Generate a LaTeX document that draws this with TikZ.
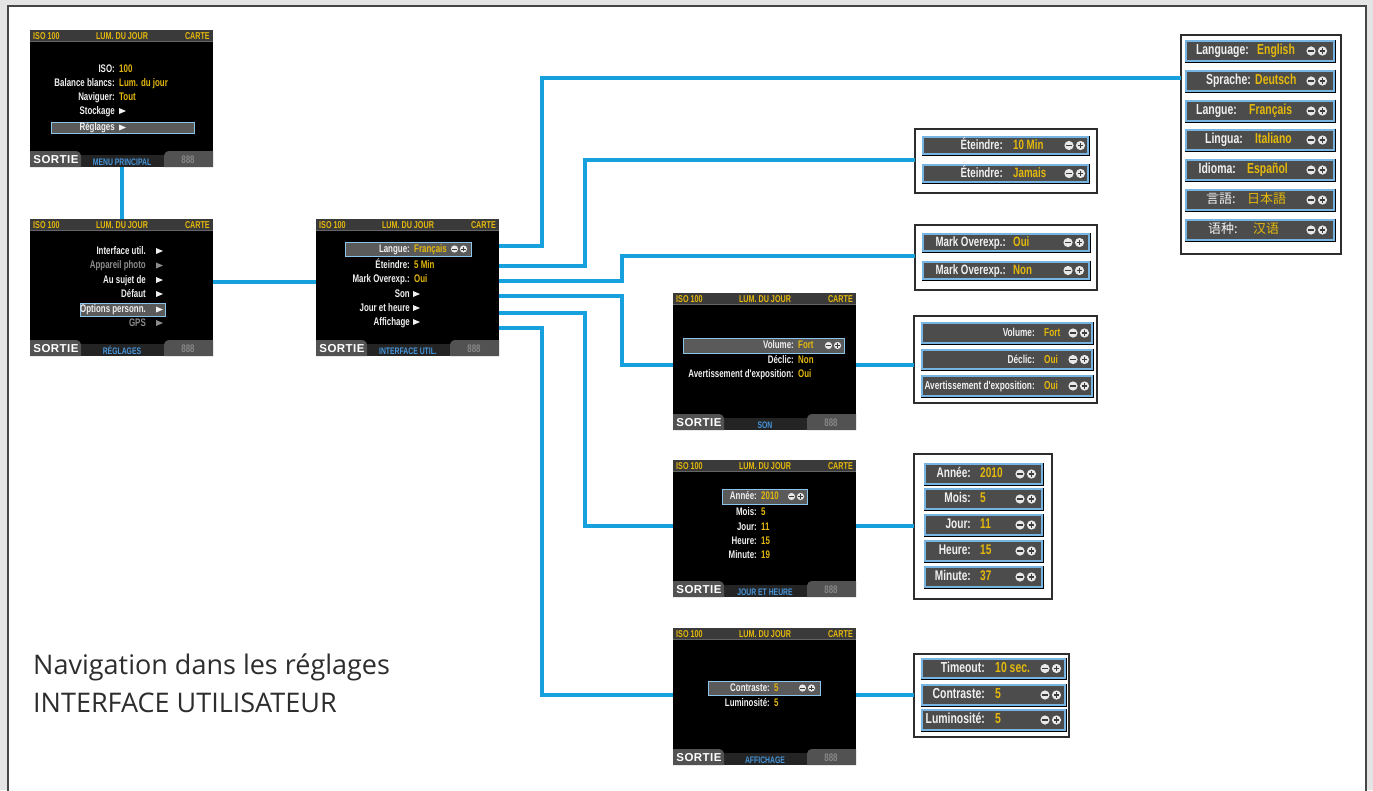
\documentclass[tikz,border=0pt]{standalone}
\usepackage{fontspec}
\setmainfont{Open Sans}
\newfontfamily\cf[FakeStretch=0.72]{Liberation Sans}
\newfontfamily\sortf[LetterSpace=4]{Liberation Sans}
\newfontfamily\jpf{Noto Sans CJK JP}
\newfontfamily\scf{Noto Sans CJK SC}
\newcounter{nd}
\definecolor{connc}{RGB}{22,160,222}
\definecolor{ylw}{RGB}{228,184,12}
\definecolor{topbar}{RGB}{58,58,58}
\definecolor{topln}{RGB}{100,100,100}
\definecolor{tabc}{RGB}{82,82,82}
\definecolor{midbar}{RGB}{36,36,36}
\definecolor{hlfill}{RGB}{90,90,90}
\definecolor{hlborder}{RGB}{140,196,236}
\definecolor{rowfill}{RGB}{76,76,76}
\definecolor{rowedge}{RGB}{120,180,225}
\definecolor{btit}{RGB}{70,150,220}
\definecolor{lbl}{RGB}{240,240,240}
\definecolor{dimc}{RGB}{140,140,140}
\definecolor{eightc}{RGB}{135,135,135}
\definecolor{boxedge}{RGB}{45,45,45}
\definecolor{framec}{RGB}{70,70,70}
\definecolor{bggray}{RGB}{228,228,228}
\definecolor{capc}{RGB}{45,45,45}
\definecolor{icnc}{RGB}{232,232,232}
\definecolor{icsymc}{RGB}{60,60,60}
\tikzset{
 scrframe/.style={fill=black, draw=none, anchor=north west, minimum width=183pt, minimum height=137pt, inner sep=0pt, outer sep=0pt},
 toptxt/.style={font={\cf\bfseries\fontsize{10}{10}\selectfont}, text=ylw, inner sep=0pt},
 stxt/.style={font={\cf\bfseries\fontsize{11}{11}\selectfont}, text=lbl, inner sep=0pt},
 sval/.style={stxt, text=ylw},
 sortie/.style={font={\sortf\bfseries\fontsize{11.5}{11.5}\selectfont}, text=white, inner sep=0pt},
 btitle/.style={font={\cf\bfseries\fontsize{9.5}{9.5}\selectfont}, text=btit, inner sep=0pt},
 eights/.style={font={\cf\bfseries\fontsize{11}{11}\selectfont}, text=eightc, inner sep=0pt},
 hlbox/.style={fill=hlfill, draw=hlborder, line width=1pt},
 listbox/.style={fill=white, draw=boxedge, line width=2.5pt, anchor=north west, inner sep=0pt, outer sep=0pt},
 rowbox/.style={fill=rowfill, draw=rowedge, line width=1.2pt, preaction={draw=black, line width=3pt}},
 rlab/.style={font={\cf\bfseries\fontsize{\rfs}{\rfs}\selectfont}, text=lbl, inner sep=0pt},
 rval/.style={rlab, text=ylw},
 icn/.style={fill=icnc},
 icsym/.style={draw=icsymc, line width=1.3pt},
 conn/.style={draw=connc, line width=4pt},
 captxt/.style={font={\fontsize{27}{32}\selectfont}, text=capc, inner sep=0pt},
}
% screen base, drawn inside a shifted scope
\newcommand\scrbase[2]{%
  \node[scrframe] (#1) at (0,0) {};
  \fill[topbar] (0,0) rectangle (183,11);
  \draw[topln, line width=0.8pt] (0,11) -- (183,11);
  \stepcounter{nd}\node[toptxt,anchor=mid west] (t\thend) at (3,6.5) {ISO 100};
  \stepcounter{nd}\node[toptxt,anchor=mid] (t\thend) at (92,6.5) {LUM. DU JOUR};
  \stepcounter{nd}\node[toptxt,anchor=mid east] (t\thend) at (180,6.5) {CARTE};
  \fill[midbar] (0,125) rectangle (183,137);
  \fill[tabc] (0,137) -- (0,121) -- (45,121) .. controls (49,121) and (51,123) .. (51,127) -- (51,137) -- cycle;
  \fill[tabc] (183,137) -- (183,121) -- (140,121) .. controls (136,121) and (134,123) .. (134,127) -- (134,137) -- cycle;
  \stepcounter{nd}\node[sortie,anchor=mid] (t\thend) at (26,130.5) {SORTIE};
  \stepcounter{nd}\node[btitle,anchor=mid] (t\thend) at (92,132.5) {#2};
  \stepcounter{nd}\node[eights,anchor=mid] (t\thend) at (158,130.5) {888};
}
\newcommand\si[4]{%
  \stepcounter{nd}\node[stxt,anchor=mid east] (t\thend) at (#1,#2+0.5) {#3};
  \stepcounter{nd}\node[sval,anchor=mid west] (t\thend) at (#1+4,#2+0.5) {#4};}
\newcommand\sa[5]{%
  \stepcounter{nd}\node[stxt,anchor=mid east,text=#5] (t\thend) at (#1,#3+0.5) {#4};
  \fill[#5] (#2,#3-3) -- (#2+7,#3) -- (#2,#3+3) -- cycle;}
\newcommand\shl[4]{\draw[hlbox] (#1,#2) rectangle (#3,#4);}
\newcommand\spm[2]{%
  \fill[icn] (#1,#2) circle[radius=3.6pt];
  \draw[icsym,line width=1pt] (#1-2.2,#2) -- (#1+2.2,#2);
  \fill[icn] (#1+9,#2) circle[radius=3.6pt];
  \draw[icsym,line width=1pt] (#1+6.8,#2) -- (#1+11.2,#2) (#1+9,#2-2.2) -- (#1+9,#2+2.2);}
\newcommand\bigpm[2]{%
  \fill[icn] (#1,#2) circle[radius=4.6pt];
  \draw[icsym] (#1-2.8,#2) -- (#1+2.8,#2);
  \fill[icn] (#1+11.5,#2) circle[radius=4.6pt];
  \draw[icsym] (#1+8.7,#2) -- (#1+14.3,#2) (#1+11.5,#2-2.8) -- (#1+11.5,#2+2.8);}
\newcommand\lrow[9]{%
  \pgfmathsetmacro\ym{(#2+#4)/2}%
  \pgfmathsetmacro\yt{(#2+#4)/2+1}%
  \draw[rowbox] (#1,#2) rectangle (#3,#4);
  \stepcounter{nd}\node[rlab,anchor=mid east] (t\thend) at (#5,\yt) {#7};
  \stepcounter{nd}\node[rval,anchor=mid west] (t\thend) at (#6,\yt) {#8};
  \bigpm{#9}{\ym}}
\begin{document}
\begin{tikzpicture}[x=1pt,y=-1pt]
\useasboundingbox (0,0) rectangle (1373,790);
\fill[bggray] (0,0) rectangle (1373,790);
\draw[framec, line width=2pt, fill=white] (8,6) rectangle (1366,800);

% ---------- screens ----------
\begin{scope}[shift={(30,30)}]
  \scrbase{s1}{MENU PRINCIPAL}
  \shl{21}{92}{164}{103}
  \si{85}{39}{ISO:}{100}
  \si{85}{53}{Balance blancs:}{Lum. du jour}
  \si{85}{67}{Naviguer:}{Tout}
  \sa{85}{89}{81}{Stockage}{lbl}
  \sa{85}{89}{97.5}{Réglages}{lbl}
\end{scope}

\begin{scope}[shift={(30,219)}]
  \scrbase{s2}{RÉGLAGES}
  \shl{50}{84}{135}{97}
  \sa{116}{126}{32}{Interface util.}{lbl}
  \sa{116}{126}{46.5}{Appareil photo}{dimc}
  \sa{116}{126}{61}{Au sujet de}{lbl}
  \sa{116}{126}{75}{Défaut}{lbl}
  \sa{116}{126}{90.5}{Options personn.}{lbl}
  \sa{116}{126}{104}{GPS}{dimc}
\end{scope}

\begin{scope}[shift={(316,219)}]
  \scrbase{s3}{INTERFACE UTIL.}
  \shl{29}{23}{155}{37}
  \si{94}{30}{Langue:}{Français}
  \spm{138.5}{30}
  \si{94}{46}{Éteindre:}{5 Min}
  \si{94}{60}{Mark Overexp.:}{Oui}
  \sa{94}{97}{75}{Son}{lbl}
  \sa{94}{97}{89}{Jour et heure}{lbl}
  \sa{94}{97}{103}{Affichage}{lbl}
\end{scope}

\begin{scope}[shift={(673,293)}]
  \scrbase{sSon}{SON}
  \shl{10}{45}{171}{60}
  \si{121}{52.5}{Volume:}{Fort}
  \spm{155.5}{52.5}
  \si{121}{67}{Déclic:}{Non}
  \si{121}{81}{Avertissement d'exposition:}{Oui}
\end{scope}

\begin{scope}[shift={(673,460)}]
  \scrbase{sJour}{JOUR ET HEURE}
  \shl{49}{29}{134}{44}
  \si{84}{36.5}{Année:}{2010}
  \spm{118.5}{36.5}
  \si{84}{52}{Mois:}{5}
  \si{84}{67}{Jour:}{11}
  \si{84}{81}{Heure:}{15}
  \si{84}{95}{Minute:}{19}
\end{scope}

\begin{scope}[shift={(673,628)}]
  \scrbase{sAff}{AFFICHAGE}
  \shl{35}{53}{147}{67}
  \si{97}{60}{Contraste:}{5}
  \spm{129.5}{60}
  \si{97}{75}{Luminosité:}{5}
\end{scope}

% ---------- option lists ----------
\node[listbox, minimum width=160pt, minimum height=219pt] (lang) at (1181,35) {};
\def\rfs{14.5}
\lrow{1186}{41}{1334}{61}{1249}{1257}{Language:}{English}{1311}
\lrow{1186}{71}{1334}{91}{1251}{1255}{Sprache:}{Deutsch}{1311}
\lrow{1186}{101}{1334}{121}{1237}{1249}{Langue:}{Français}{1311}
\lrow{1186}{130}{1334}{150}{1243}{1255}{Lingua:}{Italiano}{1311}
\lrow{1186}{160}{1334}{180}{1236}{1247}{Idioma:}{Español}{1311}
\def\rfs{13}
\lrow{1186}{190}{1334}{210}{1236}{1247}{{\jpf\mdseries 言語:}}{{\jpf\mdseries 日本語}}{1311}
\lrow{1186}{220}{1334}{240}{1238}{1253}{{\scf\mdseries 语种:}}{{\scf\mdseries 汉语}}{1311}

\node[listbox, minimum width=182pt, minimum height=64pt] (etein) at (915,129) {};
\def\rfs{13.5}
\lrow{923}{137}{1088}{154}{1003}{1013}{Éteindre:}{10 Min}{1069}
\lrow{923}{165}{1088}{182}{1003}{1013}{Éteindre:}{Jamais}{1069}

\node[listbox, minimum width=182pt, minimum height=65pt] (mark) at (915,225) {};
\lrow{923}{234}{1089}{251}{1006}{1013}{Mark Overexp.:}{Oui}{1068}
\lrow{923}{262}{1089}{279}{1006}{1013}{Mark Overexp.:}{Non}{1068}

\node[listbox, minimum width=183pt, minimum height=87pt] (vol) at (914,316) {};
\def\rfs{11.5}
\lrow{922}{323}{1092}{343}{1035}{1044}{Volume:}{Fort}{1073}
\lrow{922}{350}{1092}{369}{1035}{1044}{Déclic:}{Oui}{1073}
\lrow{922}{376}{1092}{396}{1035}{1044}{Avertissement d'exposition:}{Oui}{1073}

\node[listbox, minimum width=138pt, minimum height=145pt] (annee) at (914,454) {};
\def\rfs{14}
\lrow{925}{464}{1042}{484}{971}{980}{Année:}{2010}{1020}
\lrow{925}{489}{1042}{509}{971}{980}{Mois:}{5}{1020}
\lrow{925}{515}{1042}{535}{971}{980}{Jour:}{11}{1020}
\lrow{925}{541}{1042}{561}{971}{980}{Heure:}{15}{1020}
\lrow{925}{567}{1042}{587}{971}{980}{Minute:}{37}{1020}

\node[listbox, minimum width=155pt, minimum height=83pt] (timeo) at (914,654) {};
\def\rfs{14.5}
\lrow{922}{659}{1065}{678}{985}{995}{Timeout:}{10 sec.}{1045}
\lrow{922}{685}{1065}{705}{985}{995}{Contraste:}{5}{1045}
\lrow{922}{710}{1065}{730}{985}{995}{Luminosité:}{5}{1045}

% ---------- connectors ----------
\draw[conn] (s1.south -| 122,0) -- (s2.north -| 122,0);
\draw[conn] (s2.east |- 0,282) -- (s3.west |- 0,282);
\draw[conn] (s3.east |- 0,246) -| (542,78) -- (lang.west |- 0,78);
\draw[conn] (s3.east |- 0,266) -| (585,160) -- (etein.west |- 0,160);
\draw[conn] (s3.east |- 0,281) -| (622,256) -- (mark.west |- 0,256);
\draw[conn] (s3.east |- 0,296) -| (622,365) -- (sSon.west |- 0,365);
\draw[conn] (s3.east |- 0,313) -| (585,526) -- (sJour.west |- 0,526);
\draw[conn] (s3.east |- 0,328) -| (542,695) -- (sAff.west |- 0,695);
\draw[conn] (sSon.east |- 0,365) -- (vol.west |- 0,365);
\draw[conn] (sJour.east |- 0,526) -- (annee.west |- 0,526);
\draw[conn] (sAff.east |- 0,695) -- (timeo.west |- 0,695);

% ---------- caption ----------
\node[captxt, anchor=base west] (cap1) at (33,674) {Navigation dans les réglages};
\node[captxt, anchor=base west] (cap2) at (33,712) {INTERFACE UTILISATEUR};
\end{tikzpicture}
\end{document}
